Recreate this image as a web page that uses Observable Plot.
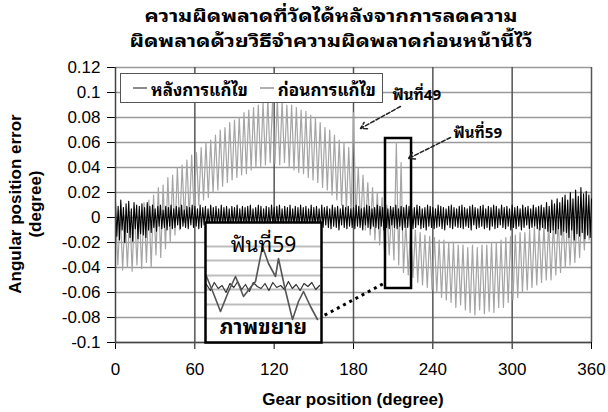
<!DOCTYPE html>
<html>
<head>
<meta charset="utf-8">
<script src="https://cdn.jsdelivr.net/npm/d3@7"></script>
<script src="https://cdn.jsdelivr.net/npm/@observablehq/plot@0.6"></script>
<style>
  body { margin: 0; background: #fff; }
  #wrap { position: relative; width: 608px; height: 412px; background: #fff; overflow: hidden; font-family: "Liberation Sans", Arial, sans-serif; }
  .thai { font-family: Tahoma, "Noto Sans Thai Looped", "Noto Sans Thai", "Noto Sans Thai UI", Loma, Garuda, Sarabun, "Liberation Sans", "DejaVu Sans", sans-serif; }
  .tline { position: absolute; left: 27px; width: 608px; text-align: center; font-weight: bold; font-size: 17px; line-height: 20px; color: #000; transform: scaleX(1.25); transform-origin: 304px 0; white-space: nowrap; }
  #t1 { top: 5px; }
  #t2 { top: 30px; }
  #chart { position: absolute; left: 0; top: 58px; }
  #inset { position: absolute; left: 205px; top: 222px; }
  #legend { position: absolute; left: 120px; top: 73px; width: 261px; height: 28px; border: 1px solid #555; background: #fff; display: flex; align-items: center; font-weight: bold; font-size: 17px; }
  #legend .sw { display: inline-block; width: 14px; height: 0; border-top: 2px solid #999; margin: 0 4px 0 12px; }
  #ytitle { position: absolute; left: 26px; top: 204px; transform: translate(-50%, -50%) rotate(-90deg); text-align: center; font-weight: bold; font-size: 17px; line-height: 20px; white-space: nowrap; }
  #xtitle { position: absolute; left: 353px; top: 400px; transform: translate(-50%, -50%); font-weight: bold; font-size: 17px; white-space: nowrap; }
</style>
</head>
<body>
<div id="wrap">
  <div id="t1" class="tline thai">ความผิดพลาดที่วัดได้หลังจากการลดความ</div>
  <div id="t2" class="tline thai">ผิดพลาดด้วยวิธีจำความผิดพลาดก่อนหน้านี้ไว้</div>
  <div id="chart"></div>
  <div id="legend" class="thai"></div>
  <div id="inset"></div>
  <div id="ytitle">Angular position error<br>(degree)</div>
  <div id="xtitle">Gear position (degree)</div>
</div>
<script>
// ---------------- data ----------------
const seriesNames = ["หลังการแก้ไข", "ก่อนการแก้ไข"];
const gearTicks = [0, 60, 120, 180, 240, 300, 360];
const errTicks = [-0.1, -0.08, -0.06, -0.04, -0.02, 0, 0.02, 0.04, 0.06, 0.08, 0.1, 0.12];
const toothPitch = 3.6; // degrees per tooth (100 teeth)

// before correction: per-tooth peak and trough (thousandths of a degree)
const beforeHigh = [
  3, 6, 2, 5, 8, 6, 12, 14, 18, 24,
  26, 32, 34, 40, 42, 46, 50, 52, 56, 60,
  62, 66, 70, 72, 76, 78, 80, 84, 86, 88,
  90, 92, 95, 94, 95, 93, 90, 90, 88, 86,
  85, 82, 80, 76, 72, 70, 66, 62, 60, 56,
  84, 40, 34, 28, 24, 20, 16, 10, 6, 60,
  44, -4, -8, -10, -12, -14, -15, -16, -18, -18,
  -20, -20, -22, -22, -24, -22, -24, -22, -22, -20,
  -20, -18, -16, -15, -14, -12, -12, -10, -8, -8,
  -6, -5, -4, -2, 0, 2, 4, 5, 8, 10
];
const beforeLow = [
  -38, -42, -40, -43, -38, -41, -36, -40, -30, -32,
  -25, -20, -14, -10, -4, 0, 6, 10, 14, 16,
  20, 22, 25, 28, 30, 32, 34, 35, 38, 40,
  40, 42, 44, 43, 42, 44, 40, 38, 36, 35,
  32, 30, 28, 24, 22, 18, 14, 10, 6, 2,
  0, -6, -10, -14, -18, -22, -26, -30, -34, -38,
  -44, -46, -48, -52, -54, -56, -58, -60, -64, -66,
  -68, -72, -70, -74, -76, -78, -74, -77, -75, -76,
  -72, -72, -68, -66, -64, -60, -58, -56, -54, -52,
  -50, -50, -46, -44, -40, -38, -36, -32, -26, -18
];

// after correction: one reading per degree (thousandths of a degree)
const afterErr = [
  12,-15,9,-18,14,-10,8,-20,11,-12,13,-16,7,-19,12,-9,10,-17,9,-13,
  11,-14,8,-16,12,-10,9,-12,10,-8,7,-11,9,-7,10,-9,6,-8,9,-10,
  8,-7,10,-9,7,-8,9,-6,8,-9,10,-7,6,-8,9,-9,8,-6,10,-8,
  9,-7,7,-9,10,-8,8,-6,9,-10,7,-8,10,-7,8,-9,9,-6,7,-8,
  10,-9,8,-7,9,-8,7,-10,9,-6,8,-8,10,-9,7,-7,9,-8,8,-10,
  9,-7,10,-8,7,-9,8,-6,10,-8,9,-9,7,-7,9,-10,8,-8,10,-6,
  8,-9,9,-7,10,-8,7,-9,9,-6,8,-10,10,-8,7,-7,9,-9,8,-8,
  10,-7,8,-9,9,-8,7,-6,10,-9,8,-8,9,-7,7,-10,10,-8,8,-6,
  9,-8,7,-9,10,-7,8,-8,9,-10,7,-6,10,-8,8,-9,9,-7,7,-8,
  8,-9,10,-7,9,-8,7,-10,8,-6,10,-8,9,-9,7,-7,8,-8,10,-9,
  9,-7,8,-10,10,-8,7,-9,9,-6,8,-8,10,-9,7,-7,9,-10,8,-8,
  10,-8,9,-7,7,-9,8,-8,10,-6,9,-9,7,-8,8,-10,10,-7,9,-8,
  8,-9,7,-8,10,-7,9,-9,8,-10,7,-6,9,-8,10,-9,8,-7,7,-8,
  9,-8,10,-9,8,-7,7,-8,9,-10,10,-6,8,-9,7,-8,9,-7,10,-9,
  7,-8,9,-10,8,-7,10,-9,9,-8,7,-6,10,-8,8,-9,9,-7,7,-10,
  10,-8,8,-9,9,-7,7,-10,10,-8,8,-6,9,-9,7,-8,10,-7,8,-9,
  9,-10,10,-8,8,-9,12,-11,9,-12,14,-10,11,-13,15,-9,12,-14,16,-11,
  18,-12,14,-16,20,-10,15,-18,22,-13,17,-15,24,-12,19,-17,21,-14,18,-16,
  15
];

// annotations (data coordinates)
const calloutLabels = [
  {x: 209.5, y: 0.0976, text: "ฟันที่49"},
  {x: 255.6, y: 0.0672, text: "ฟันที่59"}
];
const calloutArrows = [
  {x1: 215.5, y1: 0.0888, x2: 185.3, y2: 0.0712},
  {x1: 253.4, y1: 0.064, x2: 221.6, y2: 0.0472}
];
const zoomWindow = [{x1: 204.2, x2: 223.9, y1: -0.0568, y2: 0.0632}];
const zoomLink = [{x1: 153.5, y1: -0.0808, x2: 204.2, y2: -0.052}];

// magnified view of tooth 59 (relative units)
const insetBeforeX = [1, 8, 15, 23, 30, 38, 45, 50, 57, 63, 70, 73, 79, 87, 93, 98, 105, 112];
const insetBeforeY = [66, 49, 31, 51, 66, 46, 55, 61, 96, 79, 66, 84, 56, 23, 41, 51, 36, 23];
const insetAfterY = [58,52,60,54,57,50,59,55,61,53,58,51,60,56,54,59,52,60,55,57,53,61,54,58,52,59,56,60,53,57];
const insetGrid = [24, 38, 53, 67, 82, 96];
const insetTitle = "ฟันที่59";
const insetCaption = "ภาพขยาย";

// ---------------- build tables ----------------
const beforeData = [];
beforeHigh.forEach((h, i) => {
  beforeData.push({x: i * toothPitch, y: h / 1000});
  beforeData.push({x: i * toothPitch + toothPitch / 2, y: beforeLow[i] / 1000});
});
const afterData = afterErr.map((v, i) => ({x: i, y: v / 1000}));

const thaiFont = 'Tahoma, "Noto Sans Thai Looped", "Noto Sans Thai", "Noto Sans Thai UI", Loma, Garuda, Sarabun, "Liberation Sans", sans-serif';
const fmt = d => String(Math.round(d * 100) / 100);

const chart = Plot.plot({
  width: 608,
  height: 354,
  marginTop: 9,
  marginBottom: 70,
  marginLeft: 115,
  marginRight: 17,
  style: {fontFamily: '"Liberation Sans", Arial, sans-serif', fontSize: "17px", color: "#000", background: "transparent", overflow: "visible"},
  x: {domain: [0, 360], ticks: gearTicks, tickFormat: fmt, tickSize: 7, tickPadding: 13, label: null},
  y: {domain: [-0.1, 0.12], ticks: errTicks, tickFormat: fmt, tickSize: 8, tickPadding: 7, label: null},
  marks: [
    Plot.ruleY(errTicks, {stroke: "#9a9a9a", strokeWidth: 1.6}),
    Plot.ruleX(gearTicks.slice(1), {stroke: "#555", strokeWidth: 1.5}),
    Plot.line(beforeData, {x: "x", y: "y", stroke: "#a5a5a5", strokeWidth: 1.2}),
    Plot.line(afterData, {x: "x", y: "y", stroke: "#000", strokeWidth: 1.1}),
    Plot.ruleX([0], {stroke: "#444", strokeWidth: 1.5}),
    Plot.ruleY([-0.1], {stroke: "#444", strokeWidth: 1.5}),
    Plot.rect(zoomWindow, {x1: "x1", x2: "x2", y1: "y1", y2: "y2", fill: "none", stroke: "#000", strokeWidth: 2.5}),
    Plot.link(zoomLink, {x1: "x1", y1: "y1", x2: "x2", y2: "y2", stroke: "#000", strokeWidth: 3, strokeDasharray: "3,4"}),
    Plot.arrow(calloutArrows, {x1: "x1", y1: "y1", x2: "x2", y2: "y2", stroke: "#222", strokeWidth: 1.5, strokeDasharray: "4,2", headLength: 7}),
    Plot.text(calloutLabels, {x: "x", y: "y", text: "text", textAnchor: "start", fontSize: 15, fontWeight: "bold", fontFamily: thaiFont, fill: "#000"})
  ]
});
document.getElementById("chart").appendChild(chart);

// legend
const legend = document.getElementById("legend");
const legendColors = ["#8a8a8a", "#b0b0b0"];
seriesNames.forEach((name, i) => {
  const sw = document.createElement("span");
  sw.className = "sw";
  sw.style.borderTopColor = legendColors[i];
  const t = document.createElement("span");
  t.textContent = name;
  legend.appendChild(sw);
  legend.appendChild(t);
});

// inset
const inset = Plot.plot({
  width: 116,
  height: 120,
  margin: 0,
  style: {background: "#fff", overflow: "visible"},
  x: {domain: [0, 116], axis: null},
  y: {domain: [0, 120], axis: null},
  marks: [
    Plot.ruleY(insetGrid, {stroke: "#bdbdbd", strokeWidth: 2}),
    Plot.line(insetAfterY, {x: (d, i) => 1 + i * 3.9, y: d => d, stroke: "#333", strokeWidth: 1.2}),
    Plot.line(insetBeforeX, {x: d => d, y: (d, i) => insetBeforeY[i], stroke: "#555", strokeWidth: 1.6}),
    Plot.text([insetTitle], {frameAnchor: "top", dy: 15, fontSize: 21, fontFamily: thaiFont, fill: "#000"}),
    Plot.text([insetCaption], {frameAnchor: "bottom", dy: -9, fontSize: 21, fontWeight: "bold", fontFamily: thaiFont, fill: "#000"}),
    Plot.frame({stroke: "#000", strokeWidth: 2.5})
  ]
});
document.getElementById("inset").appendChild(inset);
</script>
</body>
</html>
